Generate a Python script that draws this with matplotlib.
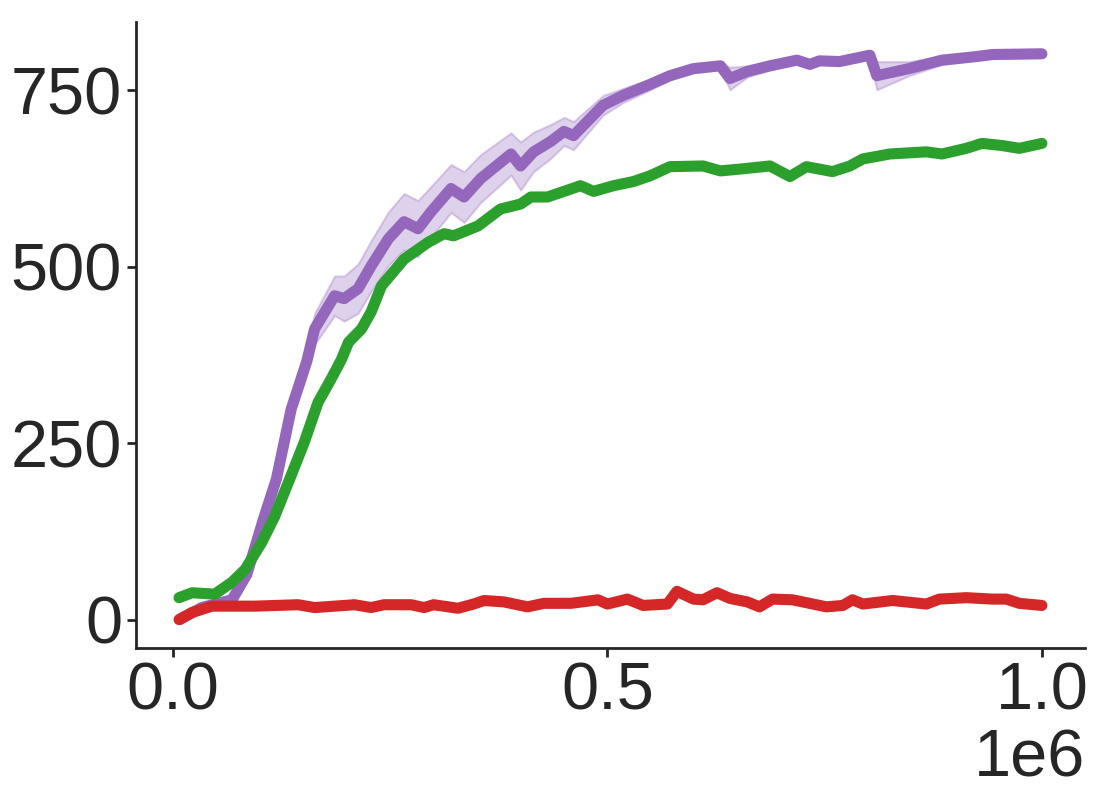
import numpy as np
import matplotlib
matplotlib.use("Agg")
import matplotlib.pyplot as plt
import seaborn as sns

# ---- data (x in units of 1e6 env steps) ----
purple_x = [0.008, 0.033, 0.068, 0.085, 0.104, 0.119, 0.136, 0.154, 0.163, 0.186, 0.197, 0.213,
            0.228, 0.248, 0.266, 0.282, 0.297, 0.320, 0.335, 0.354, 0.389, 0.400, 0.415, 0.435,
            0.450, 0.461, 0.472, 0.495, 0.518, 0.546, 0.572, 0.599, 0.630, 0.641, 0.661, 0.687,
            0.718, 0.733, 0.744, 0.767, 0.802, 0.810, 0.847, 0.885, 0.924, 0.943, 1.0]
purple_y = [0, 17, 28, 64, 142, 199, 298, 366, 412, 459, 455, 469,
            501, 540, 564, 554, 578, 611, 599, 625, 660, 643, 663, 678,
            692, 686, 700, 729, 743, 757, 771, 781, 785, 767, 777, 785,
            793, 787, 792, 791, 800, 771, 781, 793, 798, 801, 802]
purple_std = [0, 3, 4, 6, 8, 10, 14, 18, 22, 28, 32, 35,
              36, 38, 40, 40, 36, 34, 36, 34, 30, 34, 28, 24,
              20, 20, 18, 14, 10, 8, 6, 6, 5, 16, 8, 6,
              5, 5, 4, 4, 4, 20, 10, 6, 5, 5, 5]

green_x = [0.007, 0.022, 0.048, 0.068, 0.083, 0.102, 0.117, 0.133, 0.151, 0.167, 0.182, 0.194,
           0.202, 0.217, 0.228, 0.240, 0.266, 0.294, 0.312, 0.323, 0.351, 0.377, 0.400, 0.412,
           0.431, 0.450, 0.469, 0.484, 0.507, 0.530, 0.549, 0.572, 0.610, 0.630, 0.656, 0.687,
           0.710, 0.729, 0.759, 0.779, 0.794, 0.825, 0.867, 0.885, 0.913, 0.931, 0.954, 0.974, 1.0]
green_y = [31, 38, 36, 53, 71, 109, 146, 195, 251, 308, 341, 369,
           393, 412, 436, 473, 511, 535, 547, 544, 558, 582, 589, 599,
           599, 607, 615, 607, 615, 621, 629, 642, 643, 636, 639, 643,
           628, 642, 635, 643, 653, 660, 663, 660, 668, 675, 672, 668, 675]

red_x = [0.007, 0.022, 0.045, 0.094, 0.144, 0.163, 0.209, 0.228, 0.243, 0.274, 0.289, 0.300,
         0.328, 0.346, 0.358, 0.381, 0.408, 0.427, 0.458, 0.477, 0.489, 0.500, 0.523, 0.541,
         0.569, 0.580, 0.599, 0.610, 0.626, 0.641, 0.661, 0.675, 0.690, 0.713, 0.752, 0.771,
         0.782, 0.794, 0.828, 0.867, 0.882, 0.913, 0.943, 0.959, 0.974, 1.0]
red_y = [0, 10, 19, 19, 21, 17, 21, 17, 21, 21, 17, 21,
         16, 22, 27, 25, 18, 23, 23, 26, 28, 22, 29, 20,
         22, 40, 29, 28, 38, 30, 25, 18, 29, 28, 18, 20,
         28, 22, 27, 22, 29, 31, 29, 29, 23, 20]

yticks = [0, 250, 500, 750]
xticks = [0.0, 0.5, 1.0]

sns.set_style("ticks")
plt.rcParams['font.family'] = ['Liberation Sans', 'DejaVu Sans']

fig = plt.figure(figsize=(10.96, 8.08), dpi=100)
ax = fig.add_axes([0.124, 0.198, 0.866, 0.775])

scale = 1e6
px = np.array(purple_x) * scale
py = np.array(purple_y, dtype=float)
ps = np.array(purple_std, dtype=float)
ax.fill_between(px, py - ps, py + ps, color="#9467bd", alpha=0.3, linewidth=1.5,
                edgecolor="#9467bd")
ax.plot(px, py, color="#9467bd", lw=8, solid_capstyle="round", solid_joinstyle="round")
ax.plot(np.array(green_x) * scale, green_y, color="#2ca02c", lw=8,
        solid_capstyle="round", solid_joinstyle="round")
ax.plot(np.array(red_x) * scale, red_y, color="#d62728", lw=8,
        solid_capstyle="round", solid_joinstyle="round")

ax.set_yticks(yticks)
ax.set_xticks(np.array(xticks) * scale)
ax.tick_params(labelsize=48, length=6.5, width=2, colors="#262626", labelcolor="#262626")
ax.xaxis.get_offset_text().set_fontsize(48)
ax.xaxis.get_offset_text().set_color("#262626")
for s in ["left", "bottom"]:
    ax.spines[s].set_linewidth(2)
    ax.spines[s].set_color("#262626")
sns.despine(ax=ax)

fig.savefig("out.png", dpi=100)
